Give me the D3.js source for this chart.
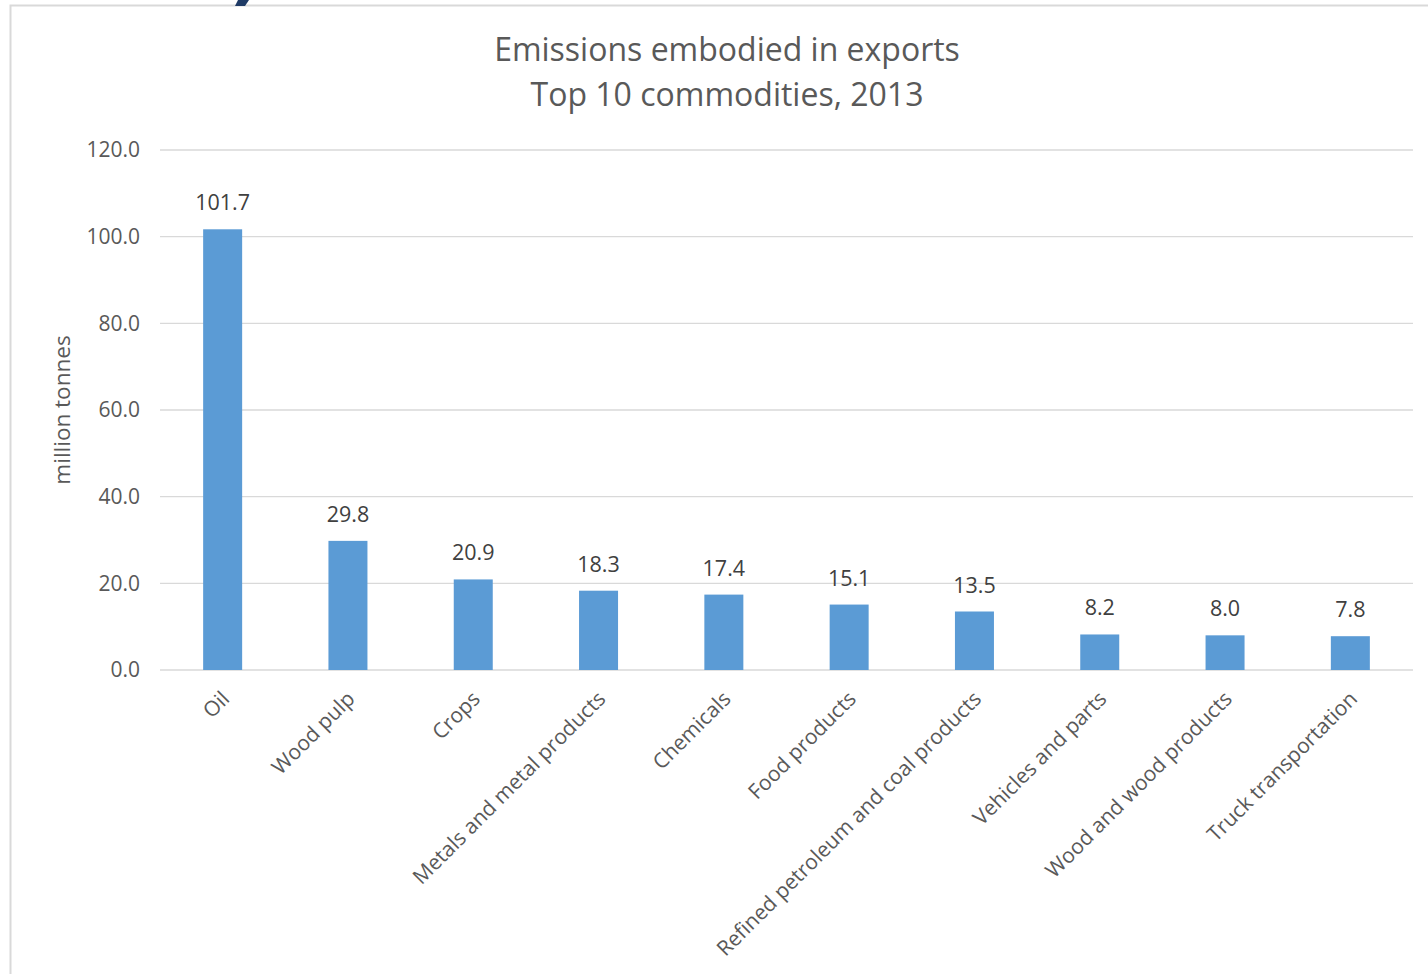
<!DOCTYPE html>
<html><head><meta charset="utf-8">
<script src="https://cdn.jsdelivr.net/npm/d3@7"></script>
<style>html,body{margin:0;padding:0;background:#fff;overflow:hidden}</style>
</head><body>
<svg id="c" width="1428" height="974"></svg>
<script>
const categories = ["Oil","Wood pulp","Crops","Metals and metal products","Chemicals","Food products","Refined petroleum and coal products","Vehicles and parts","Wood and wood products","Truck transportation"];
const values = [101.7,29.8,20.9,18.3,17.4,15.1,13.5,8.2,8.0,7.8];
const yTicks = [0,20,40,60,80,100,120];
const titleLines = ["Emissions embodied in exports","Top 10 commodities, 2013"];
const yLabel = "million tonnes";

const svg = d3.select("#c");
const font = "'Open Sans', sans-serif";
// frame
svg.append("rect").attr("x",10.5).attr("y",5.5).attr("width",1500).attr("height",1000)
  .attr("fill","#fff").attr("stroke","#d9d9d9").attr("stroke-width",2);
// decorative artifact top
svg.append("path").attr("d","M238,0 L249,0 L245,6 L235,6 Z").attr("fill","#1f3b66");

const x = d3.scaleBand().domain(categories).range([160,1413]).padding(0);
const y = d3.scaleLinear().domain([0,120]).range([670,150]);
const barW = 39;

const g = svg.append("g");
// grid
g.selectAll("line.grid").data(yTicks).join("line").attr("class","grid")
  .attr("x1",160).attr("x2",1413).attr("y1",d=>y(d)).attr("y2",d=>y(d))
  .attr("stroke","#d9d9d9").attr("stroke-width",1.3);
// y tick labels
g.selectAll("text.yt").data(yTicks).join("text").attr("class","yt")
  .attr("x",140).attr("y",d=>y(d)).attr("dy","0.35em").attr("text-anchor","end")
  .attr("font-family",font).attr("font-size",21).attr("fill","#595959")
  .text(d=>d3.format(".1f")(d));
// bars
g.selectAll("rect.bar").data(values).join("rect").attr("class","bar")
  .attr("x",(d,i)=>x(categories[i])+x.bandwidth()/2-barW/2).attr("width",barW)
  .attr("y",d=>y(d)).attr("height",d=>y(0)-y(d)).attr("fill","#5b9bd5");
// value labels
g.selectAll("text.vl").data(values).join("text").attr("class","vl")
  .attr("x",(d,i)=>x(categories[i])+x.bandwidth()/2).attr("y",d=>y(d)-19)
  .attr("text-anchor","middle").attr("font-family",font).attr("font-size",21.5).attr("fill","#404040")
  .text(d=>d3.format(".1f")(d));
// x labels
g.selectAll("text.xl").data(categories).join("text").attr("class","xl")
  .attr("transform",d=>`translate(${x(d)+x.bandwidth()/2+3},${695}) rotate(-45)`)
  .attr("text-anchor","end").attr("dy","0.35em")
  .attr("font-family",font).attr("font-size",21).attr("fill","#595959").text(d=>d);
// y label
svg.append("text").attr("transform","translate(70,410) rotate(-90)").attr("text-anchor","middle")
  .attr("font-family",font).attr("font-size",22.5).attr("fill","#595959").text(yLabel);
// title
svg.selectAll("text.title").data(titleLines).join("text").attr("class","title")
  .attr("x",727).attr("y",(d,i)=>61+i*45).attr("text-anchor","middle")
  .attr("font-family",font).attr("font-size",32).attr("fill","#595959").text(d=>d);
</script>
</body></html>
